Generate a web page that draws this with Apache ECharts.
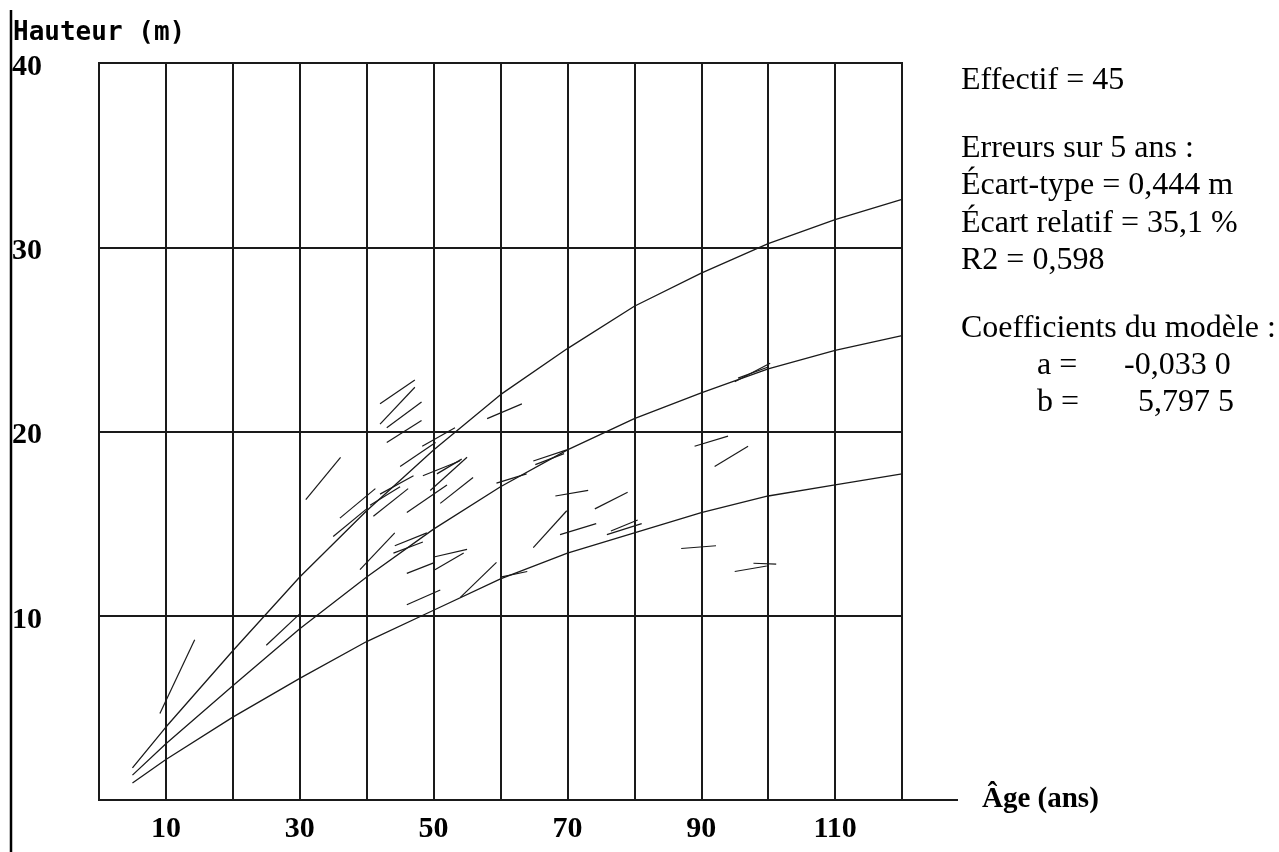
<!DOCTYPE html>
<html>
<head>
<meta charset="utf-8">
<title>Hauteur / Âge</title>
<script src="https://cdn.jsdelivr.net/npm/echarts@6.0.0/dist/echarts.min.js"></script>
<style>
  html, body { margin: 0; padding: 0; background: #fff; }
  #chart { width: 1279px; height: 852px; }
</style>
</head>
<body>
<div id="chart"></div>
<script>
// courbes du modèle
const modelAges = [5, 10, 20, 30, 40, 50, 60, 70, 80, 90, 100, 110, 120];
const upperH  = [1.74, 3.96, 8.1, 12.1, 15.7, 19.0, 22.0, 24.5, 26.8, 28.6, 30.2, 31.5, 32.6];
const middleH = [1.35, 3.05, 6.2, 9.3, 12.1, 14.7, 17.0, 19.0, 20.7, 22.1, 23.4, 24.4, 25.2];
const lowerH  = [0.92, 2.2, 4.5, 6.6, 8.6, 10.3, 12.0, 13.4, 14.5, 15.6, 16.5, 17.1, 17.7];

// accroissements observés : [âge début, hauteur début, âge fin, hauteur fin]
const treeSegments = [
    [9.1, 4.7, 14.3, 8.7],
    [25.0, 8.4, 30.0, 10.1],
    [30.9, 16.3, 36.1, 18.6],
    [35.0, 14.3, 40.0, 15.8],
    [36.0, 15.3, 41.3, 16.9],
    [39.0, 12.5, 44.2, 14.5],
    [42.0, 21.5, 47.2, 22.8],
    [42.0, 20.4, 47.2, 22.4],
    [43.0, 20.2, 48.2, 21.6],
    [43.0, 19.4, 48.2, 20.6],
    [41.0, 15.4, 46.2, 16.9],
    [42.0, 16.6, 47.0, 17.6],
    [40.5, 16.0, 45.0, 17.0],
    [44.2, 13.8, 49.0, 14.5],
    [44.0, 13.4, 48.4, 14.0],
    [45.0, 18.1, 50.3, 19.4],
    [48.3, 19.2, 53.2, 20.2],
    [46.0, 15.6, 52.0, 17.1],
    [48.4, 17.6, 53.9, 18.4],
    [49.5, 16.8, 55.0, 18.6],
    [51.0, 16.1, 55.9, 17.5],
    [50.5, 17.7, 54.2, 18.5],
    [46.0, 10.6, 51.0, 11.4],
    [46.0, 12.3, 50.2, 12.9],
    [50.2, 12.5, 54.5, 13.4],
    [50.2, 13.2, 55.0, 13.6],
    [54.0, 11.0, 59.4, 12.9],
    [58.0, 20.7, 63.2, 21.5],
    [59.4, 17.2, 63.9, 17.7],
    [64.9, 18.4, 69.9, 19.0],
    [65.2, 18.2, 69.5, 18.8],
    [60.0, 12.1, 64.0, 12.4],
    [64.9, 13.7, 69.9, 15.7],
    [68.2, 16.5, 73.1, 16.8],
    [68.9, 14.4, 74.3, 15.0],
    [74.1, 15.8, 79.0, 16.7],
    [75.9, 14.4, 81.1, 15.0],
    [76.5, 14.6, 80.5, 15.2],
    [87.0, 13.65, 92.2, 13.8],
    [89.0, 19.2, 94.0, 19.75],
    [92.0, 18.1, 97.0, 19.2],
    [95.0, 12.4, 99.8, 12.7],
    [97.8, 12.85, 101.2, 12.8],
    [95.0, 22.7, 100.3, 23.7],
    [95.5, 22.9, 100.0, 23.5]
];

const xTicks = [10, 30, 50, 70, 90, 110];
const yTicks = [10, 20, 30, 40];

const statsLines = ['Effectif = 45', 'Erreurs sur 5 ans :', 'Écart-type = 0,444 m',
    'Écart relatif = 35,1 %', 'R2 = 0,598', 'Coefficients du modèle :'];
const statsBaselines = [92, 160, 197, 235, 272, 340];
const coefNames = ['a =', 'b ='];
const coefValues = ['-0,033 0', '5,797 5'];
const coefBaselines = [377, 414];
const coefValueX = [1124, 1138];

const chart = echarts.init(document.getElementById('chart'));

const serif = '"Liberation Serif", "Times New Roman", serif';
const curveStyle = { color: '#1a1a1a', width: 1.3 };

function curve(values) {
    return {
        type: 'line',
        data: modelAges.map((a, i) => [a, values[i]]),
        showSymbol: false,
        smooth: false,
        lineStyle: curveStyle,
        silent: true
    };
}

const texts = [{
    type: 'text', x: 13, y: 33,
    style: {
        text: 'Hauteur (m)', font: 'bold 26px "DejaVu Sans Mono", monospace',
        fill: '#000', verticalAlign: 'middle'
    }
}];
statsLines.forEach((t, i) => {
    texts.push({
        type: 'text', x: 961, y: statsBaselines[i] - 11,
        style: { text: t, font: '32px ' + serif, fill: '#000', verticalAlign: 'middle' }
    });
});
coefNames.forEach((t, i) => {
    texts.push({
        type: 'text', x: 1037, y: coefBaselines[i] - 11,
        style: { text: t, font: '32px ' + serif, fill: '#000', verticalAlign: 'middle' }
    });
    texts.push({
        type: 'text', x: coefValueX[i], y: coefBaselines[i] - 11,
        style: { text: coefValues[i], font: '32px ' + serif, fill: '#000', verticalAlign: 'middle' }
    });
});

const option = {
    animation: false,
    backgroundColor: '#fff',
    grid: {
        left: 99, top: 63, right: 377, bottom: 52,
        show: true, borderColor: '#1a1a1a', borderWidth: 2,
        containLabel: false, outerBoundsMode: 'none'
    },
    xAxis: {
        type: 'value', min: 0, max: 120, interval: 10,
        name: 'Âge (ans)', nameLocation: 'end', nameGap: 80,
        nameTextStyle: {
            fontFamily: serif, fontWeight: 'bold', fontSize: 29, color: '#000',
            align: 'left', verticalAlign: 'middle', padding: [0, 0, 8, 0]
        },
        axisLine: { show: false },
        axisTick: { show: false },
        splitLine: { show: true, lineStyle: { color: '#1a1a1a', width: 2 } },
        axisLabel: {
            margin: 14, fontFamily: serif, fontWeight: 'bold', fontSize: 30, color: '#000',
            formatter: v => xTicks.includes(v) ? String(v) : ''
        }
    },
    yAxis: {
        type: 'value', min: 0, max: 40, interval: 10,
        offset: 88,
        axisLine: { show: false },
        axisTick: { show: false },
        splitLine: { show: true, lineStyle: { color: '#1a1a1a', width: 2 } },
        axisLabel: {
            inside: true, margin: 1, align: 'left', verticalAlign: 'top',
            lineHeight: 8,
            fontFamily: serif, fontWeight: 'bold', fontSize: 30, color: '#000',
            formatter: v => yTicks.includes(v) ? String(v) : ''
        }
    },
    graphic: [
        { type: 'line', shape: { x1: 11, y1: 10, x2: 11, y2: 852 }, style: { stroke: '#000', lineWidth: 2.5 } },
        { type: 'line', shape: { x1: 99, y1: 800, x2: 958, y2: 800 }, style: { stroke: '#1a1a1a', lineWidth: 2 } }
    ].concat(texts),
    series: [
        curve(upperH),
        curve(middleH),
        curve(lowerH),
        {
            type: 'lines',
            coordinateSystem: 'cartesian2d',
            data: treeSegments.map(s => ({ coords: [[s[0], s[1]], [s[2], s[3]]] })),
            lineStyle: { color: '#1a1a1a', width: 1.2, opacity: 1, curveness: 0 },
            silent: true
        }
    ]
};
chart.setOption(option);
</script>
</body>
</html>
